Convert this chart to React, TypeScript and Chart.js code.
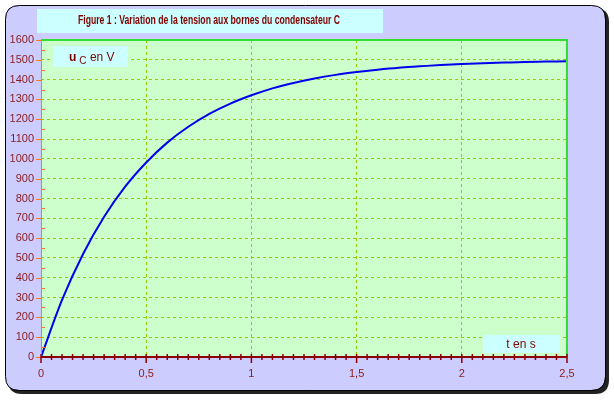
import React, { useEffect, useRef } from "react";
import { Chart, registerables } from "chart.js";

Chart.register(...registerables);

const tValues = [0, 0.1, 0.2, 0.3, 0.4, 0.5, 0.6, 0.7, 0.8, 0.9, 1.0, 1.1, 1.2, 1.3, 1.4, 1.5, 1.6, 1.7, 1.8, 1.9, 2.0, 2.1, 2.2, 2.3, 2.4, 2.5];
const ucValues = [0, 288, 520, 708, 860, 982, 1082, 1162, 1227, 1279, 1321, 1356, 1383, 1406, 1424, 1438, 1450, 1460, 1467, 1474, 1479, 1483, 1486, 1489, 1491, 1493];
const titleText = "Figure 1 : Variation de la tension aux bornes du condensateur C";
const xLabelText = "t en s";
const yLabelMain = "u";
const yLabelSub = "C";
const yLabelUnit = " en V";

const DARK_RED = "#8b1a1a";
const GRID = "#99cc00";

function roundRect(ctx: CanvasRenderingContext2D, x: number, y: number, w: number, h: number, r: number) {
  ctx.beginPath();
  ctx.moveTo(x + r, y);
  ctx.lineTo(x + w - r, y);
  ctx.quadraticCurveTo(x + w, y, x + w, y + r);
  ctx.lineTo(x + w, y + h - r);
  ctx.quadraticCurveTo(x + w, y + h, x + w - r, y + h);
  ctx.lineTo(x + r, y + h);
  ctx.quadraticCurveTo(x, y + h, x, y + h - r);
  ctx.lineTo(x, y + r);
  ctx.quadraticCurveTo(x, y, x + r, y);
  ctx.closePath();
}

const decorPlugin = {
  id: "decor",
  beforeDraw(chart: any) {
    const ctx: CanvasRenderingContext2D = chart.ctx;
    const ca = chart.chartArea;
    ctx.save();
    ctx.fillStyle = "#ffffff";
    ctx.fillRect(0, 0, chart.width, chart.height);
    // shadow
    ctx.fillStyle = "#222222";
    roundRect(ctx, 8, 8, 601, 386, 14);
    ctx.fill();
    // frame
    ctx.fillStyle = "#ccccff";
    roundRect(ctx, 5, 5, 600, 385, 14);
    ctx.fill();
    ctx.strokeStyle = "#000000";
    ctx.lineWidth = 1;
    roundRect(ctx, 5.5, 5.5, 600, 385, 14);
    ctx.stroke();
    // title box
    ctx.fillStyle = "#ccffff";
    ctx.fillRect(37, 9, 346, 24);
    ctx.fillStyle = "#800000";
    ctx.font = "bold 12px 'Liberation Sans', Arial, sans-serif";
    ctx.textAlign = "center";
    ctx.textBaseline = "middle";
    ctx.fillText(titleText, 209, 21, 262);
    // plot bg
    ctx.fillStyle = "#ccffcc";
    ctx.fillRect(ca.left, ca.top, ca.right - ca.left, ca.bottom - ca.top);
    ctx.restore();
  },
  afterDatasetsDraw(chart: any) {
    const ctx: CanvasRenderingContext2D = chart.ctx;
    const ca = chart.chartArea;
    const xs = chart.scales.x;
    const ys = chart.scales.y;
    ctx.save();
    // top and right green border
    ctx.strokeStyle = "#33dd33";
    ctx.lineWidth = 2;
    ctx.beginPath();
    ctx.moveTo(ca.left, ca.top);
    ctx.lineTo(ca.right, ca.top);
    ctx.lineTo(ca.right, ca.bottom);
    ctx.stroke();
    // y axis line + ticks
    ctx.strokeStyle = "#ff7722";
    ctx.lineWidth = 1;
    ctx.beginPath();
    ctx.moveTo(ca.left + 0.5, ca.top);
    ctx.lineTo(ca.left + 0.5, ca.bottom);
    for (let v = 0; v <= 1600; v += 50) {
      const y = Math.round(ys.getPixelForValue(v)) + 0.5;
      if (v % 100 === 0) {
        ctx.moveTo(ca.left - 5, y);
        ctx.lineTo(ca.left + 1, y);
      } else {
        ctx.moveTo(ca.left, y);
        ctx.lineTo(ca.left + 4, y);
      }
    }
    ctx.stroke();
    // x axis line + ticks
    ctx.strokeStyle = "#8b0000";
    ctx.lineWidth = 2;
    ctx.beginPath();
    ctx.moveTo(ca.left, ca.bottom);
    ctx.lineTo(ca.right, ca.bottom);
    ctx.stroke();
    ctx.lineWidth = 1.5;
    ctx.beginPath();
    for (let i = 0; i <= 50; i++) {
      const v = i * 0.05;
      const x = xs.getPixelForValue(v);
      if (i % 10 === 0) {
        ctx.moveTo(x, ca.bottom - 3);
        ctx.lineTo(x, ca.bottom + 6);
      } else {
        ctx.moveTo(x, ca.bottom - 3);
        ctx.lineTo(x, ca.bottom + 3);
      }
    }
    ctx.stroke();
    // label boxes
    ctx.fillStyle = "#ccffff";
    ctx.fillRect(53, 46, 75, 21);
    ctx.fillRect(483, 335, 77, 18);
    ctx.fillStyle = "#800000";
    ctx.textBaseline = "alphabetic";
    ctx.textAlign = "left";
    ctx.font = "bold 12px Arial, 'Liberation Sans', sans-serif";
    ctx.fillText(yLabelMain, 69, 61);
    const wu = ctx.measureText(yLabelMain).width;
    ctx.font = "10px Arial, 'Liberation Sans', sans-serif";
    ctx.fillText(yLabelSub, 69 + wu + 3, 64);
    const wc = ctx.measureText(yLabelSub).width;
    ctx.font = "12px Arial, 'Liberation Sans', sans-serif";
    ctx.fillText(yLabelUnit, 69 + wu + 3 + wc, 61);
    ctx.textAlign = "center";
    ctx.font = "12px Arial, 'Liberation Sans', sans-serif";
    ctx.fillText(xLabelText, 521, 348);
    ctx.restore();
  },
};

export default function App() {
  const ref = useRef<HTMLCanvasElement | null>(null);
  useEffect(() => {
    if (!ref.current) return;
    const chart = new Chart(ref.current, {
      type: "line",
      data: {
        datasets: [
          {
            data: tValues.map((t, i) => ({ x: t, y: ucValues[i] })),
            borderColor: "#0000ee",
            borderWidth: 2,
            pointRadius: 0,
            fill: false,
            cubicInterpolationMode: "monotone",
          },
        ],
      },
      options: {
        responsive: false,
        animation: false,
        layout: { padding: { left: 0, top: 40, right: 47, bottom: 0 } },
        plugins: { legend: { display: false }, tooltip: { enabled: false } },
        scales: {
          x: {
            type: "linear",
            min: 0,
            max: 2.5,
            afterFit: (s: any) => { s.height = 43; },
            ticks: {
              stepSize: 0.5,
              color: DARK_RED,
              font: { family: "Arial, 'Liberation Sans', sans-serif", size: 11 },
              padding: 4,
              maxRotation: 0,
              callback: (v: any) => String(v).replace(".", ","),
            },
            grid: {
              color: (c: any) => (c.tick && (c.tick.value === 0 || c.tick.value === 2.5) ? "rgba(0,0,0,0)" : GRID),
              lineWidth: 1,
              drawTicks: true,
              tickLength: 6,
              tickColor: "rgba(0,0,0,0)",
            },
            border: { display: false, dash: [3, 3] },
          },
          y: {
            min: 0,
            max: 1600,
            afterFit: (s: any) => { s.width = 41; },
            ticks: {
              stepSize: 100,
              color: DARK_RED,
              font: { family: "Arial, 'Liberation Sans', sans-serif", size: 11 },
              padding: 2,
              callback: (v: any) => String(v),
            },
            grid: {
              color: (c: any) => (c.tick && (c.tick.value === 0 || c.tick.value === 1600) ? "rgba(0,0,0,0)" : GRID),
              lineWidth: 1,
              drawTicks: true,
              tickLength: 5,
              tickColor: "rgba(0,0,0,0)",
            },
            border: { display: false, dash: [3, 3] },
          },
        },
      },
      plugins: [decorPlugin],
    } as any);
    return () => chart.destroy();
  }, []);
  return (
    <div style={{ position: "absolute", left: 0, top: 0, width: 614, height: 400 }}>
      <canvas ref={ref} width={614} height={400} />
    </div>
  );
}
